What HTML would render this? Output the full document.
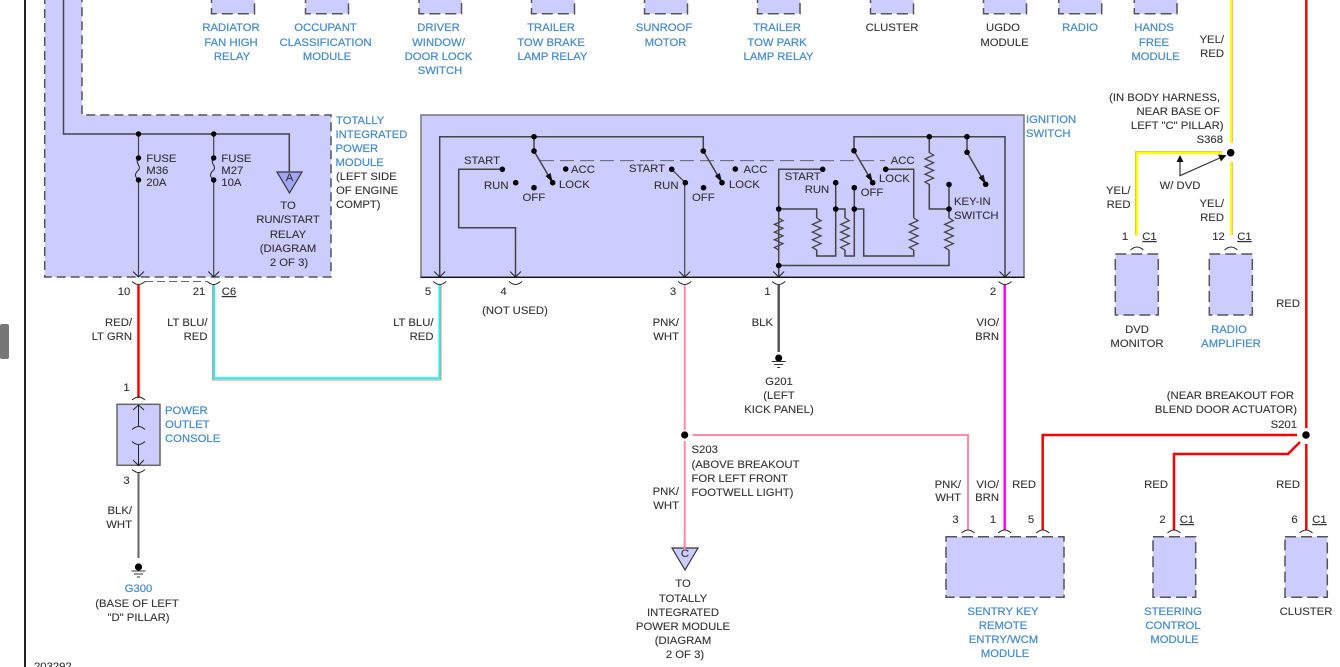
<!DOCTYPE html>
<html><head><meta charset="utf-8"><style>
html,body{margin:0;padding:0;background:#fff;width:1340px;height:667px;overflow:hidden}
svg{display:block;position:absolute;left:0;top:0}
text{font-family:"Liberation Sans",Arial,sans-serif;font-size:11.3px;fill:#333;stroke:#333;stroke-width:.12}
.b text,text.b{fill:#4a8dc8;stroke:#4a8dc8;stroke-width:.25}
.m text{text-anchor:middle}
.r text{text-anchor:end}
.box{fill:#ccccff;stroke:#555;stroke-width:1.5;stroke-dasharray:11 5}
.w{fill:none;stroke:#444;stroke-width:1.5}
.t{fill:none;stroke:#222;stroke-width:1}
.d{fill:#000}
</style></head><body>
<svg width="1340" height="667" viewBox="0 0 1340 667" xmlns="http://www.w3.org/2000/svg">
<defs>
<path id="res" d="M0 0l4.300 2.600-8.600 3.830 8.600 3.830-8.600 3.830 8.600 3.830-8.600 3.830 8.600 3.830-8.600 3.830 4.300 2.600" fill="none" stroke="#444" stroke-width="1.300"/>
<path id="ch" d="M-5.500 -5.500L0 0L5.500 -5.500" fill="none" stroke="#222" stroke-width="1"/>
<path id="up" d="M-6.500 0Q-3 3 0 3Q3 3 6.500 0" fill="none" stroke="#222" stroke-width="1"/>
<path id="dn" d="M-6.500 3Q-3 0 0 0Q3 0 6.500 3" fill="none" stroke="#222" stroke-width="1"/>
</defs>
<rect x="24" y="0" width="2" height="667" fill="#222"/>
<rect x="0" y="324" width="9" height="35" rx="2" fill="#777"/>

<!-- top boxes -->
<path class="box" d="M211.500 -8V13.700H254.500V-8M305.500 -8V13.700H348.500V-8M419 -8V13.700H461.500V-8M531.500 -8V13.700H574.500V-8M644.500 -8V13.700H687.500V-8M757.500 -8V13.700H800V-8M870.500 -8V13.700H913.500V-8M983.500 -8V13.700H1026.500V-8M1058.800 -8V13.700H1101.700V-8M1134.300 -8V13.700H1177V-8"/>
<g class="b m">
<text x="231" y="31">RADIATOR</text><text x="231" y="46">FAN HIGH</text><text x="232" y="60">RELAY</text>
<text x="325.500" y="31">OCCUPANT</text><text x="325.500" y="46">CLASSIFICATION</text><text x="327" y="60">MODULE</text>
<text x="438.500" y="31">DRIVER</text><text x="438.500" y="46">WINDOW/</text><text x="438.500" y="60">DOOR LOCK</text><text x="440" y="74">SWITCH</text>
<text x="551" y="31">TRAILER</text><text x="551" y="46">TOW BRAKE</text><text x="552.500" y="60">LAMP RELAY</text>
<text x="664" y="31">SUNROOF</text><text x="665.500" y="46">MOTOR</text>
<text x="777" y="31">TRAILER</text><text x="777" y="46">TOW PARK</text><text x="778.500" y="60">LAMP RELAY</text>
<text x="1080" y="31">RADIO</text>
<text x="1154" y="31">HANDS</text><text x="1154" y="46">FREE</text><text x="1155.500" y="60">MODULE</text>
</g>
<g class="m"><text x="892" y="31">CLUSTER</text><text x="1003" y="31">UGDO</text><text x="1004.500" y="46">MODULE</text></g>

<!-- TIPM -->
<path d="M44.700 -5V277H331V115H82V-5" fill="#ccccff" stroke="#555" stroke-width="1.500" stroke-dasharray="9 5"/>
<path class="w" d="M63.500 0V134H289.300V172"/>
<path class="w" style="stroke-width:1.200" d="M138.500 134V158M138.500 180V277M213.700 134V158M213.700 180V277"/>
<path class="t" d="M138.500 158C134 163 142 166 138.500 170C134 174 135 177 138.500 180M213.700 158C209 163 217 166 213.700 170C209 174 210 177 213.700 180" stroke="#444"/>
<g class="d"><circle cx="138.500" cy="134" r="2.700"/><circle cx="213.700" cy="134" r="2.700"/><circle cx="138.500" cy="158" r="2.700"/><circle cx="138.500" cy="180" r="2.700"/><circle cx="213.700" cy="158" r="2.700"/><circle cx="213.700" cy="180" r="2.700"/></g>
<path d="M277 172H302L289.500 193Z" fill="#a4a4f6" stroke="#333" stroke-width="1.200"/>
<path d="M289.300 160V172" class="w"/>
<text x="289.500" y="181" text-anchor="middle" fill="#333">A</text>
<text x="146.300" y="162">FUSE</text><text x="146.300" y="174">M36</text><text x="146.300" y="186">20A</text>
<text x="221.300" y="162">FUSE</text><text x="221.300" y="174">M27</text><text x="221.300" y="186">10A</text>
<g class="m"><text x="288" y="209">TO</text><text x="288" y="223">RUN/START</text><text x="288" y="238">RELAY</text><text x="288" y="252">(DIAGRAM</text><text x="289" y="266">2 OF 3)</text></g>
<g class="b"><text x="336" y="124">TOTALLY</text><text x="335.500" y="138">INTEGRATED</text><text x="335.500" y="152">POWER</text><text x="335.500" y="166">MODULE</text></g>
<text x="336" y="180">(LEFT SIDE</text><text x="336" y="194">OF ENGINE</text><text x="336" y="208">COMPT)</text>
<use href="#ch" x="138.500" y="277"/><use href="#ch" x="213.700" y="277"/>
<use href="#up" x="138.500" y="281.500"/><use href="#up" x="213.700" y="281.500"/>
<path d="M145 281.500H207" stroke="#666" stroke-width="1" stroke-dasharray="8 4" fill="none"/>

<!-- Ignition switch -->
<rect x="421" y="115" width="603" height="162.300" fill="#ccccff" stroke="#777" stroke-width="1.500"/>
<path d="M420.500 277.300H1024.500" stroke="#111" stroke-width="1.300"/>
<path class="w" d="M439.700 277V136.700H703.300V151M534 136.700V151M502.300 169.300H458.700V227.700H515.500V277"/>
<path class="w" style="stroke-width:1.200" d="M684.700 182.700V277M671.700 169.300L685.300 182.700"/>
<path d="M540 160.700H885" stroke="#555" stroke-width="0.900" stroke-dasharray="14 6" fill="none"/>
<path class="w" d="M534 151L552.700 182.700M703.300 151L722 182.700M854 150.700L872.700 182.700M967 152.300L985.700 184.300"/>
<path d="M553 183L545.500 176L550.500 173ZM722.300 183L714.800 176L719.800 173ZM873 183L865.500 176L870.500 173ZM986 184.600L978.500 177.600L983.500 174.600Z" fill="#111"/>
<path class="w" d="M854 150.700V136.700H1005V277M929.300 136.700V153M929.300 184V209H949M967 136.700V152.300"/>
<path class="w" d="M778.700 277V169.300H822.700M778.700 209H816.700V218M816.700 250V256H835.700V182.700M835.700 209H845V218M845 250V256H854.300V187.700M854.300 209H863.700V256H913.700V250M913.700 218V169.300H885.700M778.700 265.500H949V250M949 218V184.500"/>
<use href="#res" x="778.700" y="218"/><use href="#res" x="816.700" y="218"/><use href="#res" x="845" y="218"/><use href="#res" x="913.700" y="218"/><use href="#res" x="949" y="218"/><use href="#res" x="929.300" y="152.500"/>
<g class="d">
<circle cx="534" cy="136.700" r="2.800"/><circle cx="534" cy="151" r="2.800"/><circle cx="552.700" cy="182.700" r="2.800"/><circle cx="565.700" cy="169" r="2.800"/><circle cx="515.700" cy="182.700" r="2.800"/><circle cx="534" cy="187.700" r="2.800"/><circle cx="502.300" cy="169.300" r="2.800"/>
<circle cx="671.700" cy="169.300" r="2.800"/><circle cx="685.300" cy="182.700" r="2.800"/><circle cx="703.500" cy="187.700" r="2.800"/><circle cx="703.300" cy="151" r="2.800"/><circle cx="722" cy="182.700" r="2.800"/><circle cx="735.300" cy="169" r="2.800"/>
<circle cx="929.300" cy="136.700" r="2.800"/><circle cx="967" cy="136.700" r="2.800"/><circle cx="967" cy="152.300" r="2.800"/><circle cx="985.700" cy="184.300" r="2.800"/><circle cx="854" cy="150.700" r="2.800"/><circle cx="872.700" cy="182.700" r="2.800"/>
<circle cx="822.700" cy="169.300" r="2.800"/><circle cx="778.700" cy="209" r="2.800"/><circle cx="835.700" cy="182.700" r="2.800"/><circle cx="835.700" cy="209" r="2.800"/><circle cx="854.300" cy="187.700" r="2.800"/><circle cx="854.300" cy="209" r="2.800"/><circle cx="885.700" cy="169.300" r="2.800"/><circle cx="778.700" cy="265.500" r="2.800"/><circle cx="949" cy="209" r="2.800"/><circle cx="949" cy="184.500" r="2.800"/>
</g>
<text x="464" y="164">START</text><text x="484" y="189">RUN</text><text x="522.500" y="201">OFF</text><text x="571" y="173">ACC</text><text x="559" y="188">LOCK</text>
<text x="629" y="172">START</text><text x="654" y="189">RUN</text><text x="692" y="201">OFF</text><text x="743.500" y="173">ACC</text><text x="729" y="188">LOCK</text>
<text x="784.700" y="180">START</text><text x="804.700" y="193">RUN</text><text x="860.700" y="196">OFF</text><text x="890.700" y="164">ACC</text><text x="879" y="182">LOCK</text><text x="954" y="205">KEY-IN</text><text x="954" y="219">SWITCH</text>
<g class="b"><text x="1026" y="123">IGNITION</text><text x="1026" y="137">SWITCH</text></g>
<use href="#ch" x="439.700" y="277"/><use href="#ch" x="515.500" y="277"/><use href="#ch" x="684.700" y="277"/><use href="#ch" x="778.700" y="277"/><use href="#ch" x="1005" y="277"/>
<use href="#up" x="439.700" y="281.500"/><use href="#up" x="515.500" y="281.500"/><use href="#up" x="684.700" y="281.500"/><use href="#up" x="778.700" y="281.500"/><use href="#up" x="1005" y="281.500"/>

<!-- coloured wires -->
<path d="M138.500 285V398" stroke="#ff0000" stroke-width="2.500" fill="none"/>
<path d="M140 285V398" stroke="#9fe0a0" stroke-width="0.700" fill="none"/>
<path d="M212.600 285V380H441V285" stroke="#f58a8a" stroke-width="1.100" fill="none"/>
<path d="M214 285V378.300H439.500V285" stroke="#00ffff" stroke-width="2" fill="none"/>
<path d="M684.700 285V430M684.700 441V548M692.500 435H968V530" stroke="#ff8aa8" stroke-width="2" fill="none"/>
<path d="M778.700 285V352" stroke="#555" stroke-width="2.500" fill="none"/>
<path d="M1004.700 285V530" stroke="#ff00ff" stroke-width="2.500" fill="none"/>
<path d="M1306.300 0V428M1306.300 444V530M1297 435H1042.700V530M1174 530V454H1288L1300 442" stroke="#ff0000" stroke-width="2.500" fill="none"/>
<path d="M1232.300 0V143M1232.300 162V235M1222 151.700H1135.500V235" stroke="#f0a040" stroke-width="0.900" fill="none"/>
<path d="M1231 0V143M1231 162V235M1222 153H1136.800V235" stroke="#ffff00" stroke-width="2.200" fill="none"/>
<circle cx="684.700" cy="435" r="3.600" class="d"/><circle cx="1306" cy="435" r="3.800" class="d"/><circle cx="1230.700" cy="152.700" r="3.800" class="d"/>

<g class="m">
<text x="124" y="295">10</text><text x="199" y="295">21</text><text x="428" y="295">5</text><text x="503.500" y="295">4</text><text x="673" y="295">3</text><text x="767.500" y="295">1</text><text x="993" y="295">2</text>
<text x="515" y="314">(NOT USED)</text>
<text x="779" y="385">G201</text><text x="779" y="399">(LEFT</text><text x="779" y="413">KICK PANEL)</text>
</g>
<text x="229" y="295" text-anchor="middle" text-decoration="underline">C6</text>
<g class="r">
<text x="132" y="326">RED/</text><text x="132" y="340">LT GRN</text>
<text x="207.500" y="326">LT BLU/</text><text x="207.500" y="340">RED</text>
<text x="433.500" y="326">LT BLU/</text><text x="433.500" y="340">RED</text>
<text x="679" y="326">PNK/</text><text x="679" y="340">WHT</text>
<text x="773" y="326">BLK</text>
<text x="999" y="326">VIO/</text><text x="999" y="340">BRN</text>
<text x="679" y="495">PNK/</text><text x="679" y="509">WHT</text>
</g>
<!-- ground G201 -->
<circle cx="778.700" cy="358" r="3.500" class="d"/><path d="M771.700 361.500H785.700M774.200 364.500H783.200M777.200 367.500H780.200" stroke="#333" stroke-width="1"/>

<!-- Power outlet -->
<use href="#dn" x="138.500" y="397"/>
<rect x="117" y="404.300" width="43" height="61" fill="#ccccff" stroke="#666" stroke-width="1.500"/>
<path d="M138.500 405V426M138.500 445V465.500" stroke="#222" stroke-width="1" fill="none"/>
<path d="M133 410L138.500 405L144 410" fill="none" stroke="#222"/>
<use href="#dn" x="138.500" y="426.500"/><use href="#up" x="138.500" y="441.500"/>
<use href="#ch" x="138.500" y="465.500"/><use href="#up" x="138.500" y="469.500"/>
<path d="M138.500 473V558" stroke="#666" stroke-width="2" fill="none"/>
<circle cx="138.500" cy="567" r="3.600" class="d"/><path d="M131.500 571H145.500M134 574H143M137 577H140" stroke="#333" stroke-width="1"/>
<text x="126.500" y="391" text-anchor="middle">1</text><text x="126.500" y="484" text-anchor="middle">3</text>
<g class="b"><text x="165" y="414">POWER</text><text x="165" y="428">OUTLET</text><text x="165" y="442">CONSOLE</text></g>
<g class="r"><text x="132" y="514">BLK/</text><text x="132" y="528">WHT</text></g>
<text x="138.500" y="592" text-anchor="middle" class="b">G300</text>
<g class="m"><text x="137" y="607">(BASE OF LEFT</text><text x="138.500" y="621">"D" PILLAR)</text></g>
<text x="34" y="670">203292</text>

<!-- S203 -->
<text x="691.500" y="453">S203</text><text x="691.500" y="468">(ABOVE BREAKOUT</text><text x="691.500" y="482">FOR LEFT FRONT</text><text x="691.500" y="496">FOOTWELL LIGHT)</text>
<path d="M672 548H698L685 570Z" fill="#ccccff" stroke="#333" stroke-width="1.200"/>
<path d="M684.700 540V549" stroke="#ff8aa8" stroke-width="2"/>
<text x="685" y="557" text-anchor="middle">C</text>
<g class="m"><text x="683" y="587">TO</text><text x="683" y="602">TOTALLY</text><text x="683" y="616">INTEGRATED</text><text x="683" y="630">POWER MODULE</text><text x="683" y="644">(DIAGRAM</text><text x="685" y="658">2 OF 3)</text></g>

<!-- right upper -->
<g class="r">
<text x="1224" y="43">YEL/</text><text x="1224" y="57">RED</text>
<text x="1220" y="101">(IN BODY HARNESS,</text><text x="1220" y="115">NEAR BASE OF</text><text x="1223.500" y="129">LEFT "C" PILLAR)</text><text x="1223" y="143">S368</text>
<text x="1130.500" y="194">YEL/</text><text x="1130.500" y="208">RED</text>
<text x="1224" y="207">YEL/</text><text x="1224" y="221">RED</text>
<text x="1300" y="307">RED</text>
</g>
<path d="M1180 158V175.700L1222 157" fill="none" stroke="#333" stroke-width="1.200"/>
<path d="M1180 155L1176.500 162H1183.500ZM1226.500 155.200L1218 154.500L1221 161.500Z" fill="#111"/>
<text x="1180" y="189" text-anchor="middle">W/ DVD</text>
<g class="m"><text x="1125" y="240">1</text><text x="1218.500" y="240">12</text></g>
<text x="1149.500" y="240" text-anchor="middle" text-decoration="underline">C1</text><text x="1244.500" y="240" text-anchor="middle" text-decoration="underline">C1</text>
<use href="#dn" x="1137" y="247"/><use href="#dn" x="1231" y="247"/>
<rect class="box" x="1115.300" y="254" width="43" height="61"/>
<rect class="box" x="1209.300" y="254" width="43" height="61"/>
<text x="1137" y="333" text-anchor="middle">DVD</text><text x="1137" y="347" text-anchor="middle">MONITOR</text>
<g class="b m"><text x="1229" y="333">RADIO</text><text x="1231" y="347">AMPLIFIER</text></g>

<!-- bottom right -->
<g class="r">
<text x="1294" y="399">(NEAR BREAKOUT FOR</text><text x="1297" y="413">BLEND DOOR ACTUATOR)</text><text x="1297" y="428">S201</text>
<text x="961" y="488">PNK/</text><text x="961" y="501">WHT</text>
<text x="999" y="488">VIO/</text><text x="999" y="501">BRN</text>
<text x="1036" y="488">RED</text><text x="1168" y="488">RED</text><text x="1300" y="488">RED</text>
</g>
<g class="m"><text x="955.500" y="523">3</text><text x="993" y="523">1</text><text x="1031" y="523">5</text><text x="1162.500" y="523">2</text><text x="1294.500" y="523">6</text><text x="1306" y="615">CLUSTER</text></g>
<text x="1187" y="523" text-anchor="middle" text-decoration="underline">C1</text><text x="1319.500" y="523" text-anchor="middle" text-decoration="underline">C1</text>
<use href="#dn" x="968" y="530"/><use href="#dn" x="1004.700" y="530"/><use href="#dn" x="1042.700" y="530"/><use href="#dn" x="1174" y="530"/><use href="#dn" x="1306" y="530"/>
<rect class="box" x="946" y="536.700" width="118" height="60.600"/>
<rect class="box" x="1153" y="536.700" width="42.700" height="60.600"/>
<rect class="box" x="1285" y="536.700" width="42.300" height="60.600"/>
<g class="b m">
<text x="1003" y="615">SENTRY KEY</text><text x="1003" y="629">REMOTE</text><text x="1003.500" y="643">ENTRY/WCM</text><text x="1005" y="657">MODULE</text>
<text x="1173" y="615">STEERING</text><text x="1173" y="629">CONTROL</text><text x="1174.500" y="643">MODULE</text>
</g>
</svg>
</body></html>
